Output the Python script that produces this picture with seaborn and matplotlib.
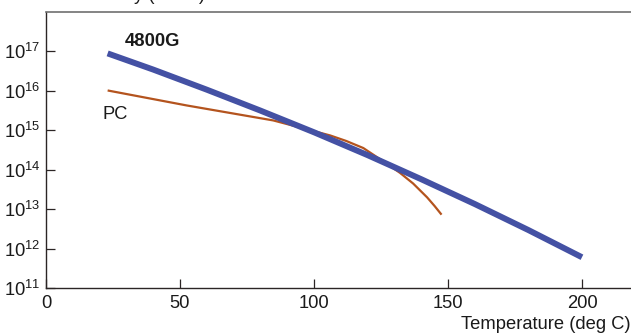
import numpy as np
import pandas as pd
import matplotlib
matplotlib.use("Agg")
import matplotlib.pyplot as plt
import seaborn as sns

# Data (temperature in deg C, log10 resistivity)
g4800_temp = [23, 40, 60, 80, 100, 120, 140, 160, 180, 200]
g4800_log = [16.95, 16.54, 16.03, 15.50, 14.95, 14.37, 13.76, 13.13, 12.47, 11.78]

pc_temp = [23, 52.5, 84.8, 106, 112, 118.4, 124.6, 132.1, 137, 142.2, 145, 147.6]
pc_log = [16.01, 15.63, 15.25, 14.87, 14.73, 14.55, 14.27, 13.92, 13.65, 13.30, 13.08, 12.86]

x_ticks = [0, 50, 100, 150, 200]
y_ticks = [1e11, 1e12, 1e13, 1e14, 1e15, 1e16, 1e17]

sns.set_style("ticks")
plt.rcParams['font.family'] = ['Liberation Sans', 'DejaVu Sans']
plt.rcParams['mathtext.fontset'] = 'custom'
plt.rcParams['mathtext.rm'] = 'Liberation Sans'

df_g = pd.DataFrame({"Temperature": g4800_temp, "Resistivity": 10 ** np.array(g4800_log)})
df_p = pd.DataFrame({"Temperature": pc_temp, "Resistivity": 10 ** np.array(pc_log)})

fig = plt.figure(figsize=(6.31, 3.34), dpi=100)
ax = fig.add_axes([46 / 631, 46 / 334, 1 - 46 / 631, (288 - 12) / 334])

sns.lineplot(data=df_p, x="Temperature", y="Resistivity", ax=ax, color="#b4541e",
             linewidth=1.6, solid_capstyle="butt")
sns.lineplot(data=df_g, x="Temperature", y="Resistivity", ax=ax, color="#4451a4",
             linewidth=4.3, solid_capstyle="butt")

FS = 13.2

ax.set_yscale("log")
ax.set_xlim(0, 218.3)
ax.set_ylim(1e11, 1e18)
ax.set_xticks(x_ticks)
ax.set_xticklabels([str(t) for t in x_ticks])
ax.set_yticks(y_ticks)
ax.set_yticklabels([r"$\mathregular{10^{%d}}$" % int(np.log10(t)) for t in y_ticks])
ax.yaxis.set_minor_locator(matplotlib.ticker.NullLocator())

ax.tick_params(axis="both", direction="in", length=6.5, width=0.9, colors="#2b2525",
               labelsize=FS, labelcolor="#1a1a1a")
ax.tick_params(axis="x", pad=5)
ax.tick_params(axis="y", pad=4)

for s in ["left", "bottom"]:
    ax.spines[s].set_color("#2b2525")
    ax.spines[s].set_linewidth(1.0)
ax.spines["right"].set_visible(False)
ax.spines["top"].set_visible(True)
ax.spines["top"].set_color("#707070")
ax.spines["top"].set_linewidth(1.2)

ax.set_ylabel("")
ax.set_xlabel("Temperature (deg C)", fontsize=FS, color="#1a1a1a", loc="right", labelpad=3)

ax.text(29.5, 10 ** 17.25, "4800G", fontsize=FS, fontweight="bold", color="#1a1a1a",
        ha="left", va="center")
ax.text(20.9, 10 ** 15.4, "PC", fontsize=FS, color="#1a1a1a", ha="left", va="center")

fig.text(205 / 631, 1.0, "Volume Resistivity (\u03a9-cm)", fontsize=FS,
         color="#1a1a1a", ha="right", va="baseline")

fig.savefig("out.png", dpi=100)
